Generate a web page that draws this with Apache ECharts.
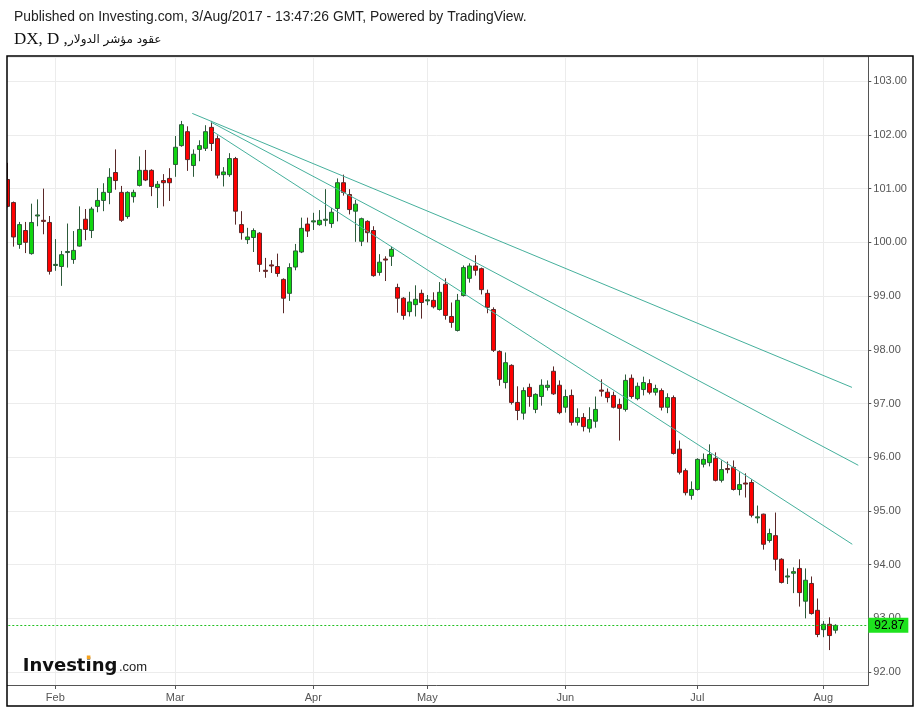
<!DOCTYPE html>
<html><head><meta charset="utf-8">
<script src="https://cdn.jsdelivr.net/npm/echarts@6/dist/echarts.min.js"></script>
<style>html,body{margin:0;padding:0;background:#fff}#c{width:920px;height:708px}</style>
</head><body><div id="c"></div>
<script>
// trading days (category axis); last five are empty slots after the final bar
const dates = [
'2017-01-20','2017-01-23','2017-01-24','2017-01-25','2017-01-26','2017-01-27','2017-01-30','2017-01-31',
'2017-02-01','2017-02-02','2017-02-03','2017-02-06','2017-02-07','2017-02-08','2017-02-09','2017-02-10','2017-02-13','2017-02-14','2017-02-15','2017-02-16','2017-02-17','2017-02-20','2017-02-21','2017-02-22','2017-02-23','2017-02-24','2017-02-27','2017-02-28',
'2017-03-01','2017-03-02','2017-03-03','2017-03-06','2017-03-07','2017-03-08','2017-03-09','2017-03-10','2017-03-13','2017-03-14','2017-03-15','2017-03-16','2017-03-17','2017-03-20','2017-03-21','2017-03-22','2017-03-23','2017-03-24','2017-03-27','2017-03-28','2017-03-29','2017-03-30','2017-03-31',
'2017-04-03','2017-04-04','2017-04-05','2017-04-06','2017-04-07','2017-04-10','2017-04-11','2017-04-12','2017-04-13','2017-04-17','2017-04-18','2017-04-19','2017-04-20','2017-04-21','2017-04-24','2017-04-25','2017-04-26','2017-04-27','2017-04-28',
'2017-05-01','2017-05-02','2017-05-03','2017-05-04','2017-05-05','2017-05-08','2017-05-09','2017-05-10','2017-05-11','2017-05-12','2017-05-15','2017-05-16','2017-05-17','2017-05-18','2017-05-19','2017-05-22','2017-05-23','2017-05-24','2017-05-25','2017-05-26','2017-05-29','2017-05-30','2017-05-31',
'2017-06-01','2017-06-02','2017-06-05','2017-06-06','2017-06-07','2017-06-08','2017-06-09','2017-06-12','2017-06-13','2017-06-14','2017-06-15','2017-06-16','2017-06-19','2017-06-20','2017-06-21','2017-06-22','2017-06-23','2017-06-26','2017-06-27','2017-06-28','2017-06-29','2017-06-30',
'2017-07-03','2017-07-04','2017-07-05','2017-07-06','2017-07-07','2017-07-10','2017-07-11','2017-07-12','2017-07-13','2017-07-14','2017-07-17','2017-07-18','2017-07-19','2017-07-20','2017-07-21','2017-07-24','2017-07-25','2017-07-26','2017-07-27','2017-07-28','2017-07-31',
'2017-08-01','2017-08-02','2017-08-03','2017-08-04','2017-08-07','2017-08-08','2017-08-09','2017-08-10'
];
const opens = [
101.17,100.74,99.96,100.22,99.79,100.49,100.41,100.37,
99.57,99.55,99.81,99.68,99.93,100.43,100.22,100.67,100.78,100.93,101.30,100.93,100.48,100.85,101.06,101.34,101.34,101.02,101.15,101.19,
101.45,101.80,102.06,101.43,101.73,101.75,102.14,101.93,101.26,101.26,101.56,100.33,100.05,100.09,100.17,99.48,99.58,99.55,99.31,99.05,99.54,99.82,100.34,
100.38,100.33,100.41,100.35,100.63,101.11,100.89,100.58,100.02,100.39,100.22,99.44,99.69,99.74,99.16,98.96,98.71,98.84,99.05,
98.91,98.92,98.75,99.22,98.62,98.36,99.01,99.33,99.56,99.51,99.05,98.75,97.97,97.39,97.71,97.02,96.82,97.30,96.89,97.13,97.30,97.60,97.34,
96.93,97.15,96.65,96.74,96.54,96.67,97.25,97.21,97.15,96.98,96.89,97.47,97.09,97.26,97.37,97.21,97.24,96.93,97.11,96.15,95.75,95.29,
95.40,95.87,95.90,95.98,95.57,95.79,95.81,95.40,95.52,95.53,94.87,94.94,94.45,94.54,94.10,93.77,93.84,93.93,93.32,93.65,93.15,
92.79,92.89,92.78
];
const closes = [
100.67,100.10,100.33,100.00,100.37,100.51,100.39,99.46,
99.59,99.77,99.83,99.85,100.24,100.24,100.62,100.78,100.93,101.21,101.15,100.41,100.93,100.93,101.34,101.16,101.04,101.08,101.11,101.11,
101.77,102.19,101.54,101.64,101.80,102.06,101.84,101.25,101.31,101.56,100.58,100.18,100.10,100.22,99.59,99.46,99.56,99.42,98.96,99.53,99.84,100.26,100.21,
100.40,100.41,100.43,100.56,101.11,100.93,100.61,100.71,100.44,100.18,99.38,99.63,99.67,99.87,98.96,98.64,98.89,98.94,98.88,
98.93,98.80,99.07,98.64,98.51,98.92,99.53,99.56,99.48,99.12,98.79,97.99,97.45,97.76,97.02,96.87,97.24,97.13,97.17,97.34,97.34,97.18,96.83,
97.13,96.65,96.74,96.57,96.70,96.89,97.23,97.11,96.93,96.91,97.43,97.13,97.32,97.39,97.21,97.28,96.93,97.11,96.07,95.72,95.34,95.40,
95.96,95.96,96.05,95.57,95.77,95.77,95.40,95.49,95.50,94.92,94.89,94.38,94.58,94.10,93.67,93.79,93.87,93.48,93.71,93.09,92.70,
92.89,92.68,92.87
];
const lows = [
100.65,99.92,99.88,99.80,99.77,100.30,100.15,99.40,
99.47,99.19,99.53,99.60,99.92,100.04,100.08,100.56,100.58,100.71,100.98,100.38,100.44,100.74,101.04,101.14,100.86,100.64,100.67,100.77,
101.22,101.78,101.33,101.22,101.51,101.70,101.70,101.19,101.04,101.22,100.33,100.05,99.97,99.82,99.45,99.34,99.43,99.36,98.68,98.91,99.48,99.80,100.10,
100.23,100.31,100.30,100.27,100.39,100.87,100.52,100.01,99.93,100.00,99.36,99.38,99.28,99.56,98.69,98.56,98.62,98.62,98.58,
98.83,98.77,98.73,98.56,98.41,98.34,98.99,99.25,99.38,99.03,98.68,97.96,97.33,97.28,96.98,96.69,96.70,96.94,96.82,96.96,97.24,97.16,96.80,
96.83,96.59,96.59,96.48,96.46,96.55,97.13,97.02,96.91,96.31,96.85,97.09,97.06,97.15,97.17,97.15,96.87,96.82,96.05,95.68,95.29,95.21,
95.38,95.81,95.83,95.55,95.53,95.70,95.38,95.29,95.25,94.88,94.77,94.28,94.41,93.89,93.65,93.64,93.47,93.22,93.00,93.07,92.65,
92.65,92.41,92.72
];
const highs = [
101.48,100.76,100.38,100.38,100.72,100.80,101.00,100.49,
100.06,99.84,100.35,100.21,100.67,100.62,100.66,101.01,101.10,101.38,101.73,101.05,100.95,100.98,101.60,101.72,101.36,101.14,101.27,101.38,
101.98,102.26,102.16,101.73,101.90,102.18,102.26,101.99,101.40,101.66,101.59,100.58,100.27,100.26,100.19,99.71,99.67,99.79,99.33,99.61,99.97,100.46,100.46,
100.55,100.60,100.99,100.64,101.19,101.26,100.99,100.79,100.46,100.41,100.30,99.78,99.74,99.92,99.23,98.98,99.08,99.20,99.12,
99.02,99.07,99.26,99.33,98.88,99.04,99.57,99.61,99.76,99.53,99.12,98.79,97.99,97.95,97.73,97.32,97.30,97.37,97.19,97.45,97.43,97.69,97.43,
97.26,97.26,96.91,96.82,96.93,97.13,97.45,97.28,97.22,97.09,97.54,97.54,97.39,97.50,97.45,97.35,97.28,97.19,97.15,96.31,95.79,95.55,
95.98,96.07,96.24,96.09,95.94,95.92,95.94,95.72,95.70,95.59,95.10,94.95,94.67,94.97,94.12,93.93,93.95,94.10,93.93,93.78,93.37,
92.95,93.02,92.89
];
// trend lines: [bar index (fractional), price]
const trendA = [[30.83, 102.40], [140.78, 97.30]];
const trendB = [[33.90, 102.24], [141.83, 95.85]];
const trendC = [[34.33, 102.06], [140.83, 94.38]];
const lastPrice = 92.87;
const monthNames = ['Jan','Feb','Mar','Apr','May','Jun','Jul','Aug','Sep','Oct','Nov','Dec'];

const monthStarts = new Set();
dates.forEach((d, i) => { if (i > 0 && d.slice(5, 7) !== dates[i - 1].slice(5, 7)) monthStarts.add(i); });
const isMonthStart = (i) => monthStarts.has(i);

const candles = opens.map((o, i) => [o, closes[i], lows[i], highs[i]]);

const chart = echarts.init(document.getElementById('c'), null, {renderer: 'canvas'});
const trendStyle = {color: '#45b09c', width: 1};
chart.setOption({
  animation: false,
  backgroundColor: '#ffffff',
  grid: {left: 4.3, top: 57, width: 864, height: 628, containLabel: false},
  xAxis: [{
    type: 'category',
    data: dates,
    boundaryGap: true,
    axisLine: {onZero: false, lineStyle: {color: '#555', width: 1}},
    axisTick: {show: true, interval: isMonthStart, alignWithLabel: true, length: 4, lineStyle: {color: '#555'}},
    axisLabel: {interval: isMonthStart, formatter: (v) => monthNames[+v.slice(5, 7) - 1],
      color: '#555', fontSize: 11, fontFamily: 'Liberation Sans', margin: 7},
    splitLine: {show: true, interval: isMonthStart, alignWithLabel: true, lineStyle: {color: '#ececec', width: 1}}
  }, {
    type: 'value', min: -0.5, max: dates.length - 0.5, show: false,
    axisLine: {show: false, onZero: false}, axisTick: {show: false}, axisLabel: {show: false}, splitLine: {show: false}
  }],
  yAxis: {
    type: 'value', position: 'right', min: 91.76, max: 103.45,
    splitNumber: 12, minInterval: 1, maxInterval: 1, scale: true,
    axisLine: {show: true, onZero: false, lineStyle: {color: '#555', width: 1}},
    axisTick: {show: true, length: 3, lineStyle: {color: '#555'}},
    axisLabel: {color: '#555', fontSize: 11, fontFamily: 'Liberation Sans', margin: 5,
      showMinLabel: false, showMaxLabel: false,
      formatter: (v) => Math.abs(v - Math.round(v)) < 1e-6 ? v.toFixed(2) : ''},
    splitLine: {show: true, lineStyle: {color: '#ececec', width: 1}}
  },
  series: [{
    type: 'candlestick',
    data: candles,
    barWidth: 4,
    itemStyle: {color: '#10d610', color0: '#ff0000', borderColor: '#2c5a3a', borderColor0: '#5a2828', borderWidth: 1},
    markLine: {
      silent: true, symbol: ['none', 'none'],
      lineStyle: {color: '#22c022', type: [2, 2], width: 1},
      label: {show: true, position: 'end', distance: 0, formatter: () => lastPrice.toFixed(2),
        backgroundColor: '#1ee21e', color: '#000', fontSize: 12, fontFamily: 'Liberation Sans',
        padding: [2, 4, 1, 6]},
      data: [{yAxis: lastPrice}]
    },
    z: 3
  },
  {type: 'line', xAxisIndex: 1, data: trendA, symbol: 'none', lineStyle: trendStyle, z: 4},
  {type: 'line', xAxisIndex: 1, data: trendB, symbol: 'none', lineStyle: trendStyle, z: 4},
  {type: 'line', xAxisIndex: 1, data: trendC, symbol: 'none', lineStyle: trendStyle, z: 4}],
  graphic: [
    {type: 'rect', z: 100, shape: {x: 0, y: 57, width: 7, height: 640}, style: {fill: '#fff'}},
    {type: 'rect', z: 101, shape: {x: 7, y: 56, width: 906, height: 650}, style: {fill: 'none', stroke: '#000', lineWidth: 1.5}},
    {type: 'text', z: 101, x: 14, y: 17, style: {text: 'Published on Investing.com, 3/Aug/2017 - 13:47:26 GMT, Powered by TradingView.',
      fill: '#222', font: '13.9px "Liberation Sans"', verticalAlign: 'middle'}},
    {type: 'text', z: 101, x: 14, y: 40, style: {text: 'DX, D ,', fill: '#111', font: '17px "Liberation Serif"', verticalAlign: 'middle'}},
    {type: 'text', z: 101, x: 68, y: 40, style: {text: 'عقود مؤشر الدولار', fill: '#111', font: '12px "DejaVu Sans"', verticalAlign: 'middle'}},
    {type: 'text', z: 101, x: 22.7, y: 666, style: {text: 'Investing', fill: '#111', font: 'bold 18px "DejaVu Sans"', verticalAlign: 'middle'}},
    {type: 'text', z: 101, x: 119, y: 667.5, style: {text: '.com', fill: '#222', font: '13px "Liberation Sans"', verticalAlign: 'middle'}},
    {type: 'rect', z: 102, shape: {x: 86.8, y: 655.5, width: 3.6, height: 3.6}, style: {fill: '#f5a11c'}}
  ]
});
</script></body></html>
